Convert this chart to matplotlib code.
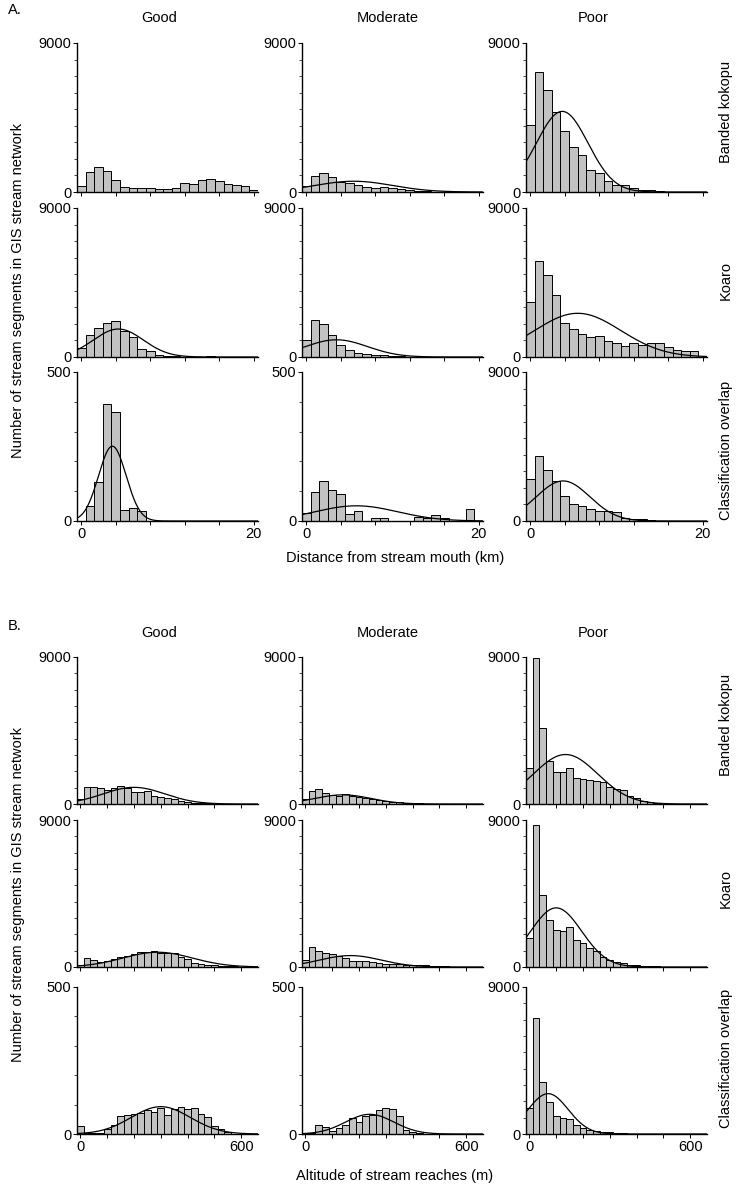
import numpy as np
import matplotlib
matplotlib.use("Agg")
import matplotlib.pyplot as plt

plt.rcParams['font.family'] = ['Liberation Sans', 'DejaVu Sans']

# ---------------- data ----------------
col_titles = ["Good", "Moderate", "Poor"]
row_labels = ["Banded kokopu", "Koaro", "Classification overlap"]

# Panel A: distance from stream mouth, 1 km bins centred on 0..20 km
dist_bins = list(range(0, 21))
dist_bk_good = [380, 1210, 1490, 1270, 730, 300, 260, 260, 260, 160, 180, 260, 560, 500, 730, 790, 690, 480, 400, 360, 100]
dist_bk_mod = [380, 990, 1150, 930, 580, 540, 400, 280, 260, 320, 220, 180, 100, 60, 40, 30, 30, 20, 20, 20, 20]
dist_bk_poor = [4030, 7230, 6160, 4810, 3660, 2720, 2220, 1310, 1150, 640, 440, 400, 240, 140, 100, 40, 30, 20, 20, 10, 10]
dist_ko_good = [560, 1300, 1740, 2080, 2200, 1600, 1200, 480, 340, 100, 60, 40, 30, 20, 20, 80, 20, 10, 10, 10, 10]
dist_ko_mod = [1000, 2240, 1980, 1300, 740, 420, 240, 180, 140, 120, 80, 40, 30, 30, 20, 20, 20, 20, 20, 20, 20]
dist_ko_poor = [3350, 5790, 4960, 3770, 2060, 1690, 1390, 1190, 1250, 990, 850, 650, 850, 730, 830, 850, 590, 440, 380, 360, 30]
dist_ov_good = [0, 52, 131, 392, 365, 38, 44, 35, 0, 0, 0, 0, 0, 0, 0, 0, 0, 0, 0, 0, 0]
dist_ov_mod = [27, 97, 133, 105, 89, 23, 33, 1, 11, 11, 0, 0, 0, 15, 9, 21, 11, 0, 0, 41, 0]
dist_ov_poor = [2540, 3910, 3090, 2400, 1530, 1030, 930, 730, 630, 590, 570, 180, 120, 100, 40, 20, 10, 10, 10, 10, 10]

# fitted normal curves (mean, sd, peak height); None = no curve drawn
dist_curve_mu = [None, 5.5, 3.7, 4.3, 3.5, 5.5, 3.6, 5.8, 3.8]
dist_curve_sd = [None, 4.5, 3.0, 2.9, 3.6, 5.0, 1.6, 4.8, 3.1]
dist_curve_peak = [None, 650, 4870, 1690, 1040, 2640, 251, 51, 2420]

# Panel B: altitude, 25 m bins centred on 0..650 m
alt_bins = list(range(0, 651, 25))
alt_bk_good = [300, 1020, 1060, 1000, 860, 960, 1100, 960, 710, 750, 820, 510, 450, 350, 300, 200, 100, 80, 60, 40, 20, 10, 10, 0, 0, 0, 0]
alt_bk_mod = [300, 820, 900, 650, 550, 510, 630, 510, 450, 390, 310, 240, 180, 140, 100, 80, 60, 40, 30, 20, 10, 10, 0, 0, 0, 0, 0]
alt_bk_poor = [2180, 8940, 4660, 2630, 1980, 1940, 2180, 1610, 1530, 1450, 1400, 1360, 1020, 900, 860, 510, 350, 200, 100, 60, 40, 20, 10, 0, 0, 0, 0]
alt_ko_good = [140, 580, 400, 280, 340, 480, 640, 680, 800, 890, 930, 950, 850, 850, 850, 640, 480, 240, 200, 140, 100, 80, 60, 40, 20, 10, 0]
alt_ko_mod = [400, 1250, 950, 850, 790, 680, 580, 380, 340, 380, 280, 240, 200, 180, 160, 140, 120, 100, 100, 80, 60, 40, 20, 10, 0, 0, 0]
alt_ko_poor = [1790, 8690, 4410, 2860, 2250, 2210, 2460, 1650, 1450, 1150, 1010, 640, 400, 300, 240, 140, 100, 80, 60, 40, 20, 10, 0, 0, 0, 0, 0]
alt_ov_good = [28, 3, 3, 3, 17, 31, 62, 65, 68, 73, 81, 74, 89, 66, 84, 93, 84, 90, 68, 59, 26, 17, 7, 0, 0, 0, 0]
alt_ov_mod = [5, 5, 30, 25, 10, 20, 30, 55, 40, 60, 65, 80, 90, 85, 60, 15, 8, 3, 0, 0, 0, 0, 0, 0, 0, 0, 0]
alt_ov_poor = [1610, 7090, 3210, 1970, 1100, 1000, 920, 560, 340, 260, 180, 120, 100, 60, 40, 20, 10, 0, 0, 0, 0, 0, 0, 0, 0, 0, 0]

alt_curve_mu = [200, 140, 135, 288, 168, 100, 300, 240, 70]
alt_curve_sd = [115, 105, 120, 130, 115, 95, 110, 90, 75]
alt_curve_peak = [1020, 560, 3030, 905, 700, 3620, 93, 67, 2470]

dist_ymax = [9000, 9000, 9000, 9000, 9000, 9000, 500, 500, 9000]
alt_ymax = [9000, 9000, 9000, 9000, 9000, 9000, 500, 500, 9000]

dist_series = [dist_bk_good, dist_bk_mod, dist_bk_poor,
               dist_ko_good, dist_ko_mod, dist_ko_poor,
               dist_ov_good, dist_ov_mod, dist_ov_poor]
alt_series = [alt_bk_good, alt_bk_mod, alt_bk_poor,
              alt_ko_good, alt_ko_mod, alt_ko_poor,
              alt_ov_good, alt_ov_mod, alt_ov_poor]

# ---------------- layout ----------------
W, H = 739, 1186
fig = plt.figure(figsize=(W / 100, H / 100), dpi=100)
FS = 10.5
BAR_FC = '#c2c2c2'

col_left = [77, 302, 526]
ax_w = 181


def add_ax(left, top, w, h):
    return fig.add_axes([left / W, 1 - (top + h) / H, w / W, h / H])


def draw_panel(series, bins, binw, xlim, xticks, xticklbl, ymaxs, mus, sds, peaks,
               row_tops, row_h):
    for i in range(9):
        r, c = divmod(i, 3)
        ax = add_ax(col_left[c], row_tops[r], ax_w, row_h)
        ax.bar(bins, series[i], width=binw, color=BAR_FC, edgecolor='black',
               linewidth=0.7, align='center', zorder=2)
        if mus[i] is not None:
            xs = np.linspace(xlim[0], xlim[1], 400)
            ys = peaks[i] * np.exp(-0.5 * ((xs - mus[i]) / sds[i]) ** 2)
            ax.plot(xs, ys, color='black', lw=0.9, zorder=3)
        ax.set_xlim(*xlim)
        ax.set_ylim(0, ymaxs[i])
        for s in ['top', 'right']:
            ax.spines[s].set_visible(False)
        ax.spines['left'].set_linewidth(1.0)
        ax.spines['bottom'].set_linewidth(1.0)
        ax.set_yticks([0, ymaxs[i]])
        ax.set_yticklabels(['0', str(ymaxs[i])], fontsize=FS)
        step = 1000 if ymaxs[i] == 9000 else 100
        ax.set_yticks(np.arange(0, ymaxs[i] + 1, step), minor=True)
        ax.set_xticks(xticks)
        if r == 2:
            ax.set_xticklabels(xticklbl, fontsize=FS)
        else:
            ax.set_xticklabels([''] * len(xticks))
        ax.tick_params(axis='both', which='major', direction='out', length=3,
                       width=0.7, pad=1)
        ax.tick_params(axis='y', which='minor', direction='out', length=2, width=0.5)
        ax.patch.set_alpha(0)


# Panel A
draw_panel(dist_series, dist_bins, 1.0, (-0.5, 20.5), list(range(0, 21, 4)),
           ['0', '', '', '', '', '20'], dist_ymax,
           dist_curve_mu, dist_curve_sd, dist_curve_peak,
           [43, 208, 372], 149)

# Panel B
draw_panel(alt_series, alt_bins, 25.0, (-12.5, 662.5), list(range(0, 601, 100)),
           ['0', '', '', '', '', '', '600'], alt_ymax,
           alt_curve_mu, alt_curve_sd, alt_curve_peak,
           [657, 820, 987], 147)

# ---------------- text ----------------
def ftext(x, y, s, **kw):
    fig.text(x / W, 1 - y / H, s, fontsize=FS, **kw)

ftext(8, 10, "A.", ha='left', va='center')
ftext(8, 626, "B.", ha='left', va='center')

title_x = [159, 388, 593]
for tx, t in zip(title_x, col_titles):
    ftext(tx, 18, t, ha='center', va='center')
    ftext(tx, 633, t, ha='center', va='center')

for y, lbl in zip([112, 280, 450], row_labels):
    ftext(726, y, lbl, ha='center', va='center', rotation=90)
for y, lbl in zip([725, 888, 1058], row_labels):
    ftext(726, y, lbl, ha='center', va='center', rotation=90)

ftext(18, 290, "Number of stream segments in GIS stream network", ha='center', va='center', rotation=90)
ftext(18, 895, "Number of stream segments in GIS stream network", ha='center', va='center', rotation=90)

ftext(395, 558, "Distance from stream mouth (km)", ha='center', va='center')
ftext(395, 1176, "Altitude of stream reaches (m)", ha='center', va='center')

fig.savefig("out.png", dpi=100)
